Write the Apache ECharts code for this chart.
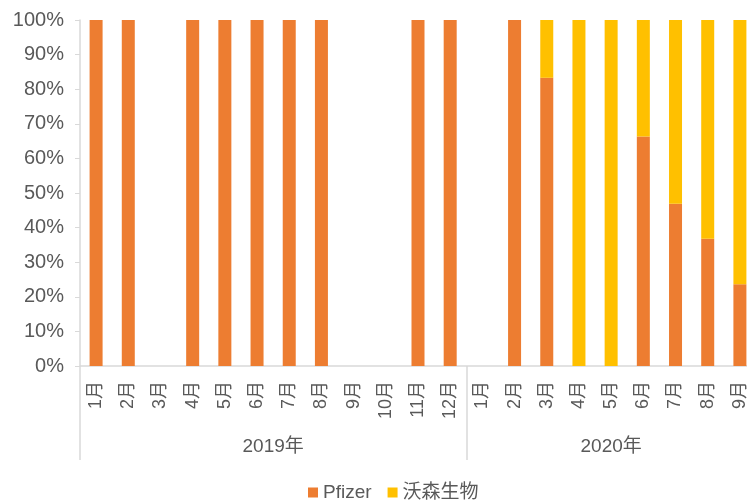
<!DOCTYPE html>
<html><head><meta charset="utf-8">
<script src="https://cdn.jsdelivr.net/npm/echarts@6/dist/echarts.min.js"></script>
<style>html,body{margin:0;padding:0;background:#fff}#c{width:747px;height:502px}</style>
</head><body><div id="c"></div>
<script>
var months = ['1月','2月','3月','4月','5月','6月','7月','8月','9月','10月','11月','12月',
              '1月','2月','3月','4月','5月','6月','7月','8月','9月'];
var yearLabels = ['2019年','2020年'];
var yearMonthCounts = [12, 9];
var pfizer = [100,100,null,100,100,100,100,100,null,null,100,100,
              null,100,83.3,0,0,66.3,46.9,36.8,23.6];
var walvax = [null,null,null,null,null,null,null,null,null,null,null,null,
              null,0,16.7,100,100,33.7,53.1,63.2,76.4];
var yTicks = [0,10,20,30,40,50,60,70,80,90,100];

var total = yearMonthCounts.reduce(function(a,b){return a+b;},0);
var bounds = [0], centers = [], acc = 0;
yearMonthCounts.forEach(function(n){ centers.push(acc + n/2); acc += n; bounds.push(acc); });

var font = '"Liberation Sans", Arial, "Noto Sans CJK SC", sans-serif';
var txt = '#595959';
var chart = echarts.init(document.getElementById('c'));
chart.setOption({
  animation: false,
  textStyle: {fontFamily: font},
  grid: {left: 80, top: 20, right: -9, bottom: 136, containLabel: false, outerBoundsMode: 'none'},
  legend: {
    left: 303, top: 478, itemWidth: 10, itemHeight: 10, itemGap: 16, itemTextGap: 4, icon: 'rect',
    textStyle: {fontSize: 19, color: txt, fontFamily: font},
    data: ['Pfizer','沃森生物']
  },
  xAxis: [{
    type: 'category', data: months, position: 'bottom',
    axisLine: {lineStyle: {color: '#d9d9d9', width: 1.5}},
    axisTick: {show: false},
    axisLabel: {rotate: 90, margin: 15, fontSize: 18, color: txt, interval: 0, fontFamily: font}
  }, {
    type: 'value', min: 0, max: total, position: 'bottom', gridIndex: 0,
    axisLine: {show: false}, splitLine: {show: false},
    axisTick: {show: true, length: 94, customValues: bounds, lineStyle: {color: '#d9d9d9', width: 1.5}},
    axisLabel: {customValues: centers, margin: 71, fontSize: 19, color: txt, fontFamily: font,
      formatter: function(v){ var i = centers.indexOf(v); return i >= 0 ? yearLabels[i] : ''; }}
  }],
  yAxis: {
    type: 'value', min: 0, max: 100, interval: 10,
    axisLine: {show: true, lineStyle: {color: '#d9d9d9', width: 1.5}},
    axisTick: {show: true, length: 5, lineStyle: {color: '#d9d9d9'}},
    splitLine: {show: false},
    axisLabel: {formatter: '{value}%', margin: 16, fontSize: 20, color: txt, fontFamily: font},
    data: yTicks
  },
  series: [{
    name: 'Pfizer', type: 'bar', stack: 's', data: pfizer, barWidth: 13,
    itemStyle: {color: '#ED7D31'}
  }, {
    name: '沃森生物', type: 'bar', stack: 's', data: walvax, barWidth: 13,
    itemStyle: {color: '#FFC000'}
  }]
});
</script></body></html>
